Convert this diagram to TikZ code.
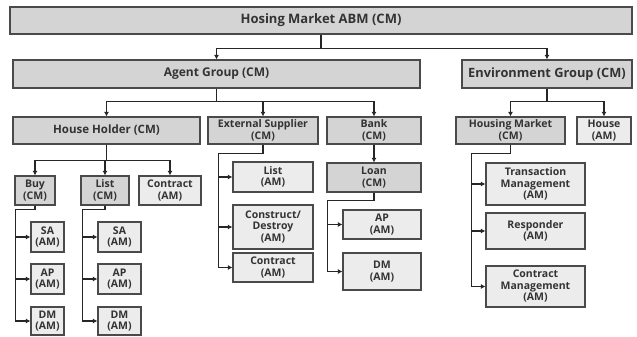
\documentclass[tikz,border=0pt]{standalone}
\usepackage{fontspec}
\setmainfont{Open Sans}
\usepackage{tikz}
\usetikzlibrary{arrows.meta}
\definecolor{cmgray}{HTML}{D4D4D4}
\definecolor{amgray}{HTML}{ECECEC}
\definecolor{edgegray}{HTML}{4A4A4A}
\tikzset{
  box/.style={draw=edgegray, line width=1.2pt, align=center, inner sep=0pt,
    text=black!80, font=\bfseries\fontsize{10.5}{11.5}\selectfont},
  cmbox/.style={box, fill=cmgray},
  ambox/.style={box, fill=amgray},
  arr/.style={draw=black!85, line width=1.1pt, -{Latex[length=4.5pt,width=5pt]}}
}
\begin{document}
\begin{tikzpicture}[x=1pt, y=-1pt]
  \useasboundingbox (0,0) rectangle (637,337);
  % levels 1 and 2
  \node[cmbox, minimum width=622pt, minimum height=27pt, font=\bfseries\fontsize{13}{14}\selectfont] (top) at (321,20.5) {Hosing Market ABM (CM)};
  \node[cmbox, minimum width=407pt, minimum height=28pt, font=\bfseries\fontsize{12}{13}\selectfont] (agent) at (216.5,74) {Agent Group (CM)};
  \node[cmbox, minimum width=170pt, minimum height=28pt, font=\bfseries\fontsize{12.8}{14}\selectfont] (env) at (547,74) {Environment Group (CM)};

  % level 3
  \node[cmbox, minimum width=187pt, minimum height=27pt, font=\bfseries\fontsize{11.5}{12}\selectfont] (hh) at (106.5,130.5) {House Holder (CM)};
  \node[cmbox, minimum width=110pt, minimum height=27pt] (es) at (263,130.5) {External Supplier\\(CM)};
  \node[cmbox, minimum width=94pt, minimum height=27pt] (bank) at (374,130.5) {Bank\\(CM)};
  \node[cmbox, minimum width=109pt, minimum height=27pt] (hm) at (510.5,130.5) {Housing Market\\(CM)};
  \node[ambox, minimum width=54pt, minimum height=27pt] (house) at (604,130.5) {House\\(AM)};

  % house holder
  \node[cmbox, minimum width=40pt, minimum height=29pt] (buy) at (35,190.5) {Buy\\(CM)};
  \node[cmbox, minimum width=48pt, minimum height=29pt] (listcm) at (105,190.5) {List\\(CM)};
  \node[ambox, minimum width=62pt, minimum height=29pt] (hhcon) at (170,190.5) {Contract\\(AM)};
  \node[ambox, minimum width=33pt, minimum height=30pt] (sa1) at (47.5,237) {SA\\(AM)};
  \node[ambox, minimum width=33pt, minimum height=30pt] (ap1) at (47.5,279) {AP\\(AM)};
  \node[ambox, minimum width=33pt, minimum height=28pt] (dm1) at (47.5,321) {DM\\(AM)};
  \node[ambox, minimum width=43pt, minimum height=30pt] (sa2) at (119.5,237) {SA\\(AM)};
  \node[ambox, minimum width=43pt, minimum height=30pt] (ap2) at (119.5,279) {AP\\(AM)};
  \node[ambox, minimum width=43pt, minimum height=28pt] (dm2) at (119.5,321) {DM\\(AM)};

  % external supplier
  \node[ambox, minimum width=80pt, minimum height=30pt] (eslist) at (273,177) {List\\(AM)};
  \node[ambox, minimum width=80pt, minimum height=44pt] (escd) at (273,227) {Construct/\\Destroy\\(AM)};
  \node[ambox, minimum width=80pt, minimum height=29pt] (escon) at (273,267.5) {Contract\\(AM)};

  % bank
  \node[cmbox, minimum width=94pt, minimum height=29pt] (loan) at (374,177.5) {Loan\\(CM)};
  \node[ambox, minimum width=78pt, minimum height=29pt] (lap) at (382,224.5) {AP\\(AM)};
  \node[ambox, minimum width=78pt, minimum height=37pt] (ldm) at (382,271.5) {DM\\(AM)};

  % housing market
  \node[ambox, minimum width=99pt, minimum height=42pt] (tm) at (535.5,184) {Transaction\\Management\\(AM)};
  \node[ambox, minimum width=99pt, minimum height=36pt] (resp) at (535.5,231) {Responder\\(AM)};
  \node[ambox, minimum width=99pt, minimum height=41pt] (cmg) at (535.5,286.5) {Contract\\Management\\(AM)};

  % connectors
  \foreach \c in {agent, env}
    \draw[arr] (top.south) -- ++(0,14) -| (\c.north);
  \foreach \c in {hh, es, bank}
    \draw[arr] (agent.south) -- ++(0,13) -| (\c.north);
  \foreach \c in {hm, house}
    \draw[arr] (env.south) -- ++(0,13) -| (\c.north);
  \foreach \c in {buy, listcm, hhcon}
    \draw[arr] (hh.south) -- ++(0,16) -| (\c.north);
  \draw[arr] (bank.south) -- (loan.north);

  \foreach \c in {sa1, ap1, dm1}
    \draw[arr] (buy.south) -- ++(0,4) -| ([xshift=-15pt]\c.west) -- (\c.west);
  \foreach \c in {sa2, ap2, dm2}
    \draw[arr] (listcm.south) -- ++(0,4) -| ([xshift=-15pt]\c.west) -- (\c.west);
  \foreach \c in {eslist, escd, escon}
    \draw[arr] (es.south) -- ++(0,9) -| ([xshift=-14pt]\c.west) -- (\c.west);
  \foreach \c in {lap, ldm}
    \draw[arr] (loan.south) -- ++(0,8) -| ([xshift=-15pt]\c.west) -- (\c.west);
  \foreach \c in {tm, resp, cmg}
    \draw[arr] (hm.south) -- ++(0,9) -| ([xshift=-14pt]\c.west) -- (\c.west);
\end{tikzpicture}
\end{document}
